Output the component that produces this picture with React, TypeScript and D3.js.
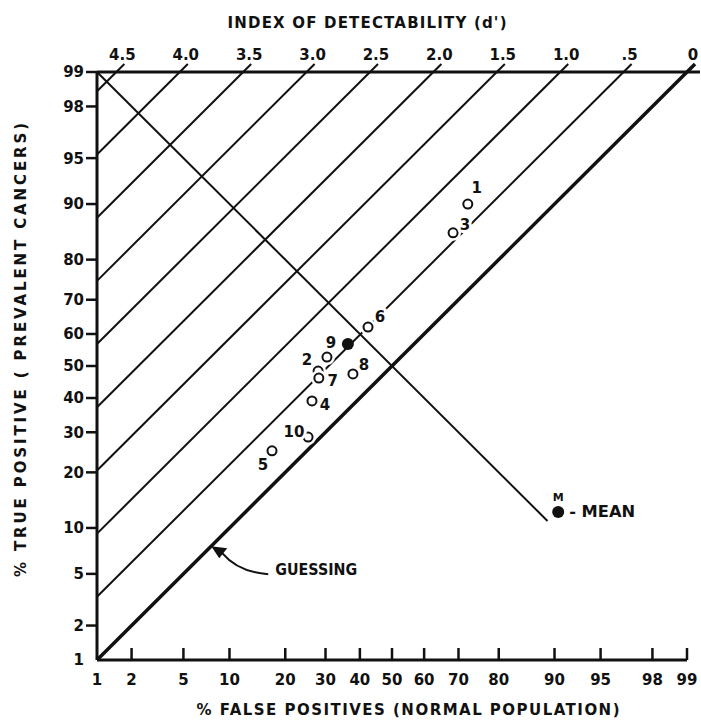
import React from 'react';
import * as d3 from 'd3';

// inverse normal CDF (Acklam) -- used as the axis transform
function probit(p: number): number {
    const a = [-3.969683028665376e1, 2.209460984245205e2, -2.759285104469687e2, 1.38357751867269e2, -3.066479806614716e1, 2.506628277459239];
    const b = [-5.447609879822406e1, 1.615858368580409e2, -1.556989798598866e2, 6.680131188771972e1, -1.328068155288572e1];
    const c = [-7.784894002430293e-3, -3.223964580411365e-1, -2.400758277161838, -2.549732539343734, 4.374664141464968, 2.938163982698783];
    const d = [7.784695709041462e-3, 3.224671290700398e-1, 2.445134137142996, 3.754408661907416];
    const pl = 0.02425;
    if (p < pl) {
        const q = Math.sqrt(-2 * Math.log(p));
        return (((((c[0] * q + c[1]) * q + c[2]) * q + c[3]) * q + c[4]) * q + c[5]) / ((((d[0] * q + d[1]) * q + d[2]) * q + d[3]) * q + 1);
    }
    if (p <= 1 - pl) {
        const q = p - 0.5, r = q * q;
        return (((((a[0] * r + a[1]) * r + a[2]) * r + a[3]) * r + a[4]) * r + a[5]) * q / (((((b[0] * r + b[1]) * r + b[2]) * r + b[3]) * r + b[4]) * r + 1);
    }
    const q = Math.sqrt(-2 * Math.log(1 - p));
    return -(((((c[0] * q + c[1]) * q + c[2]) * q + c[3]) * q + c[4]) * q + c[5]) / ((((d[0] * q + d[1]) * q + d[2]) * q + d[3]) * q + 1);
}

const dPrimes = [4.5, 4.0, 3.5, 3.0, 2.5, 2.0, 1.5, 1.0, 0.5, 0];
const dPrimeLabels = ['4.5', '4.0', '3.5', '3.0', '2.5', '2.0', '1.5', '1.0', '.5', '0'];
const xTicks = [1, 2, 5, 10, 20, 30, 40, 50, 60, 70, 80, 90, 95, 98, 99];
const yTicks = [99, 98, 95, 90, 80, 70, 60, 50, 40, 30, 20, 10, 5, 2, 1];

const readerIds = ['1', '2', '3', '4', '5', '6', '7', '8', '9', '10'];
const readerFP = [72.5, 28.0, 68.5, 26.4, 17.2, 42.5, 28.2, 37.9, 30.4, 25.4];
const readerTP = [90.0, 48.4, 85.4, 39.1, 25.1, 62.1, 46.2, 47.5, 52.8, 28.7];
const meanFP = 36.4;
const meanTP = 56.9;

const antiDiagEndFP = 89; // negative diagonal runs from (1,99) down to here
const guessArrowFP = 7.7;
const legendFP = 90.5;
const legendTP = 12.4;

// label offsets (px) from each reader's circle
const labelOffsets: Record<string, [number, number]> = {
    '1': [9, -16], '2': [-11, -11], '3': [12, -8], '4': [13, 4], '5': [-9, 14],
    '6': [12, -10], '7': [14, 3], '8': [11, -9], '9': [4, -15], '10': [-14, -5],
};

const font = '"DejaVu Sans", sans-serif';
const ink = '#111';

const App = () => {
    const zLo = probit(0.01);
    const zHi = probit(0.99);
    const x = d3.scaleLinear().domain([zLo, zHi]).range([97, 687]);
    const y = d3.scaleLinear().domain([zLo, zHi]).range([660, 72]);
    const px = (p: number) => x(probit(p / 100));
    const py = (p: number) => y(probit(p / 100));
    const ext = y.invert(64) - zHi; // small overshoot above the top axis

    const line = d3.line<[number, number]>().x(d => x(d[0])).y(d => y(d[1]));

    const arrowTipX = px(guessArrowFP);
    const arrowTipY = py(guessArrowFP);

    const halo = { stroke: 'white', strokeWidth: 6, paintOrder: 'stroke' as const, strokeLinejoin: 'round' as const };

    return (
        <svg width={701} height={720} style={{ position: 'absolute', left: 0, top: 0, background: 'white' }}>
            {/* d' iso-lines */}
            {dPrimes.map(dp => {
                const pts: [number, number][] = [[zLo, zLo + dp], [zHi + ext - dp, zHi + ext]];
                return (
                    <path key={dp} d={line(pts) || ''} fill="none" stroke={ink}
                        strokeWidth={dp === 0 ? 3.5 : 2} />
                );
            })}

            {/* negative diagonal */}
            <path d={line([[zLo, zHi], [probit(antiDiagEndFP / 100), -probit(antiDiagEndFP / 100)]]) || ''}
                fill="none" stroke={ink} strokeWidth={2} />

            {/* axes */}
            <line x1={97} x2={700} y1={y(zHi)} y2={y(zHi)} stroke={ink} strokeWidth={3} />
            <line x1={x(zLo)} x2={x(zLo)} y1={y(zHi)} y2={y(zLo)} stroke={ink} strokeWidth={3} />
            <line x1={x(zLo)} x2={x(zHi)} y1={y(zLo)} y2={y(zLo)} stroke={ink} strokeWidth={3} />

            {/* top d' labels */}
            {dPrimes.map((dp, i) => (
                <text key={dp} x={x(zHi - dp) + 6} y={60} textAnchor="middle" fontFamily={font}
                    fontWeight="bold" fontSize={15} fill={ink}>{dPrimeLabels[i]}</text>
            ))}
            <text x={367} y={28} textAnchor="middle" fontFamily={font} fontWeight="bold" fontSize={15}
                fill={ink} textLength={279} lengthAdjust="spacing">INDEX OF DETECTABILITY (d')</text>

            {/* x axis ticks */}
            {xTicks.map(t => (
                <g key={t}>
                    {t > 1 && <line x1={px(t)} x2={px(t)} y1={y(zLo)} y2={y(zLo) - 12} stroke={ink} strokeWidth={2.5} />}
                    <text x={px(t)} y={685} textAnchor="middle" fontFamily={font} fontWeight="bold"
                        fontSize={15} fill={ink}>{t}</text>
                </g>
            ))}
            <text x={408} y={715} textAnchor="middle" fontFamily={font} fontWeight="bold" fontSize={15}
                fill={ink} textLength={423} lengthAdjust="spacing">% FALSE POSITIVES (NORMAL POPULATION)</text>

            {/* y axis ticks */}
            {yTicks.map(t => (
                <g key={t}>
                    {t > 1 && <line x1={x(zLo) - 11} x2={x(zLo)} y1={py(t)} y2={py(t)} stroke={ink} strokeWidth={2.5} />}
                    <text x={84} y={py(t)} dy="0.36em" textAnchor="end" fontFamily={font} fontWeight="bold"
                        fontSize={15} fill={ink}>{t}</text>
                </g>
            ))}
            <text transform="translate(26,350) rotate(-90)" textAnchor="middle" fontFamily={font}
                fontWeight="bold" fontSize={15} fill={ink} textLength={454}
                lengthAdjust="spacing">% TRUE POSITIVE ( PREVALENT CANCERS)</text>

            {/* reader points */}
            {readerIds.map((id, i) => {
                const cx = px(readerFP[i]);
                const cy = py(readerTP[i]);
                const [ox, oy] = labelOffsets[id];
                return (
                    <g key={id}>
                        <circle cx={cx} cy={cy} r={4.5} fill="white" stroke="white" strokeWidth={7} />
                        <circle cx={cx} cy={cy} r={4.5} fill="white" stroke={ink} strokeWidth={2} />
                        <text x={cx + ox} y={cy + oy} dy="0.36em" textAnchor="middle" fontFamily={font}
                            fontWeight="bold" fontSize={15} fill={ink} {...halo}>{id}</text>
                    </g>
                );
            })}
            <circle cx={px(meanFP)} cy={py(meanTP)} r={6} fill={ink} />

            {/* guessing annotation */}
            <path d={`M${arrowTipX + 57},${arrowTipY + 28} Q${arrowTipX + 27},${arrowTipY + 26} ${arrowTipX + 11},${arrowTipY + 7}`}
                fill="none" stroke={ink} strokeWidth={2} />
            <path d={`M${arrowTipX},${arrowTipY} L${arrowTipX + 16},${arrowTipY + 2} L${arrowTipX + 8},${arrowTipY + 12} Z`}
                fill={ink} />
            <text x={arrowTipX + 64} y={arrowTipY + 29} fontFamily={font} fontWeight="bold" fontSize={15}
                fill={ink} textLength={82} lengthAdjust="spacingAndGlyphs">GUESSING</text>

            {/* legend */}
            <text x={px(legendFP)} y={py(legendTP) - 11} textAnchor="middle" fontFamily={font}
                fontWeight="bold" fontSize={11} fill={ink}>M</text>
            <circle cx={px(legendFP)} cy={py(legendTP)} r={6} fill={ink} />
            <text x={px(legendFP) + 11} y={py(legendTP)} dy="0.36em" fontFamily={font} fontWeight="bold"
                fontSize={15} fill={ink} textLength={66} lengthAdjust="spacingAndGlyphs">- MEAN</text>
        </svg>
    );
};

export default App;
